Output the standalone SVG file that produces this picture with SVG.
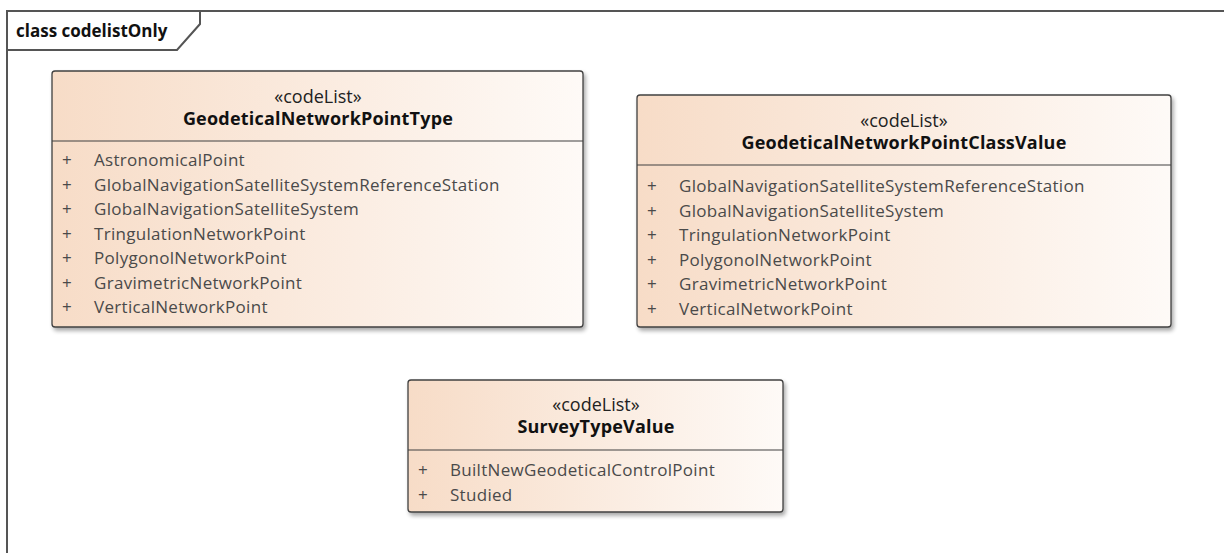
<svg xmlns="http://www.w3.org/2000/svg" width="1224" height="553" viewBox="0 0 1224 553">
  <defs>
    <linearGradient id="classFill" x1="0" y1="0" x2="1" y2="0">
      <stop offset="0" stop-color="#f7dcc7"/>
      <stop offset="1" stop-color="#fefaf7"/>
    </linearGradient>
    <filter id="shadow" x="-5%" y="-5%" width="115%" height="115%">
      <feGaussianBlur in="SourceAlpha" stdDeviation="2"/>
      <feOffset dx="2" dy="3" result="b"/>
      <feComponentTransfer><feFuncA type="linear" slope="0.35"/></feComponentTransfer>
      <feMerge><feMergeNode/><feMergeNode in="SourceGraphic"/></feMerge>
    </filter>
  </defs>
  <style>
    .box { fill: url(#classFill); stroke: #404040; stroke-width: 1.3; }
    .sep { stroke: #404040; stroke-width: 1.2; }
    .stereo { font-family: "Open Sans", "Noto Sans", sans-serif; font-size: 18px; fill: #222; text-anchor: middle; }
    .name { font-family: "Open Sans", "Noto Sans", sans-serif; font-size: 18px; font-weight: bold; letter-spacing: 0.2px; fill: #111; text-anchor: middle; }
    .attr { font-family: "Open Sans", "Noto Sans", sans-serif; font-size: 17px; letter-spacing: 0.3px; fill: #4a4a4a; }
    .frame { fill: none; stroke: #555; stroke-width: 2; }
    .tab { font-family: "Open Sans", "Noto Sans", sans-serif; font-size: 17px; font-weight: bold; fill: #111; }
  </style>
  <rect width="1224" height="553" fill="#ffffff"/>

  <!-- diagram frame -->
  <g id="frame">
    <path class="frame" d="M7,560 V11 H1230"/>
    <path class="frame" d="M7,50 H177 L200,24 V11"/>
    <text class="tab" x="16" y="37">class codelistOnly</text>
  </g>

  <g id="connectors"/>

  <!-- GeodeticalNetworkPointType -->
  <g id="GeodeticalNetworkPointType">
    <rect class="box" x="52" y="71" width="531" height="256" rx="3" filter="url(#shadow)"/>
    <line class="sep" x1="52" y1="141" x2="583" y2="141"/>
    <text class="stereo" x="318" y="103">«codeList»</text>
    <text class="name" x="318" y="125">GeodeticalNetworkPointType</text>
    <g class="attr">
      <text x="62" y="166">+</text><text x="94" y="166">AstronomicalPoint</text>
      <text x="62" y="190.5">+</text><text x="94" y="190.5">GlobalNavigationSatelliteSystemReferenceStation</text>
      <text x="62" y="215">+</text><text x="94" y="215">GlobalNavigationSatelliteSystem</text>
      <text x="62" y="239.5">+</text><text x="94" y="239.5">TringulationNetworkPoint</text>
      <text x="62" y="264">+</text><text x="94" y="264">PolygonolNetworkPoint</text>
      <text x="62" y="288.5">+</text><text x="94" y="288.5">GravimetricNetworkPoint</text>
      <text x="62" y="313">+</text><text x="94" y="313">VerticalNetworkPoint</text>
    </g>
  </g>

  <!-- GeodeticalNetworkPointClassValue -->
  <g id="GeodeticalNetworkPointClassValue">
    <rect class="box" x="637" y="95" width="534" height="232" rx="3" filter="url(#shadow)"/>
    <line class="sep" x1="637" y1="165" x2="1171" y2="165"/>
    <text class="stereo" x="904" y="127">«codeList»</text>
    <text class="name" x="904" y="149">GeodeticalNetworkPointClassValue</text>
    <g class="attr">
      <text x="647" y="192">+</text><text x="679" y="192">GlobalNavigationSatelliteSystemReferenceStation</text>
      <text x="647" y="216.5">+</text><text x="679" y="216.5">GlobalNavigationSatelliteSystem</text>
      <text x="647" y="241">+</text><text x="679" y="241">TringulationNetworkPoint</text>
      <text x="647" y="265.5">+</text><text x="679" y="265.5">PolygonolNetworkPoint</text>
      <text x="647" y="290">+</text><text x="679" y="290">GravimetricNetworkPoint</text>
      <text x="647" y="314.5">+</text><text x="679" y="314.5">VerticalNetworkPoint</text>
    </g>
  </g>

  <!-- SurveyTypeValue -->
  <g id="SurveyTypeValue">
    <rect class="box" x="408" y="380" width="375" height="132" rx="3" filter="url(#shadow)"/>
    <line class="sep" x1="408" y1="450" x2="783" y2="450"/>
    <text class="stereo" x="596" y="411">«codeList»</text>
    <text class="name" x="596" y="433">SurveyTypeValue</text>
    <g class="attr">
      <text x="418" y="476">+</text><text x="450" y="476">BuiltNewGeodeticalControlPoint</text>
      <text x="418" y="500.5">+</text><text x="450" y="500.5">Studied</text>
    </g>
  </g>
</svg>
